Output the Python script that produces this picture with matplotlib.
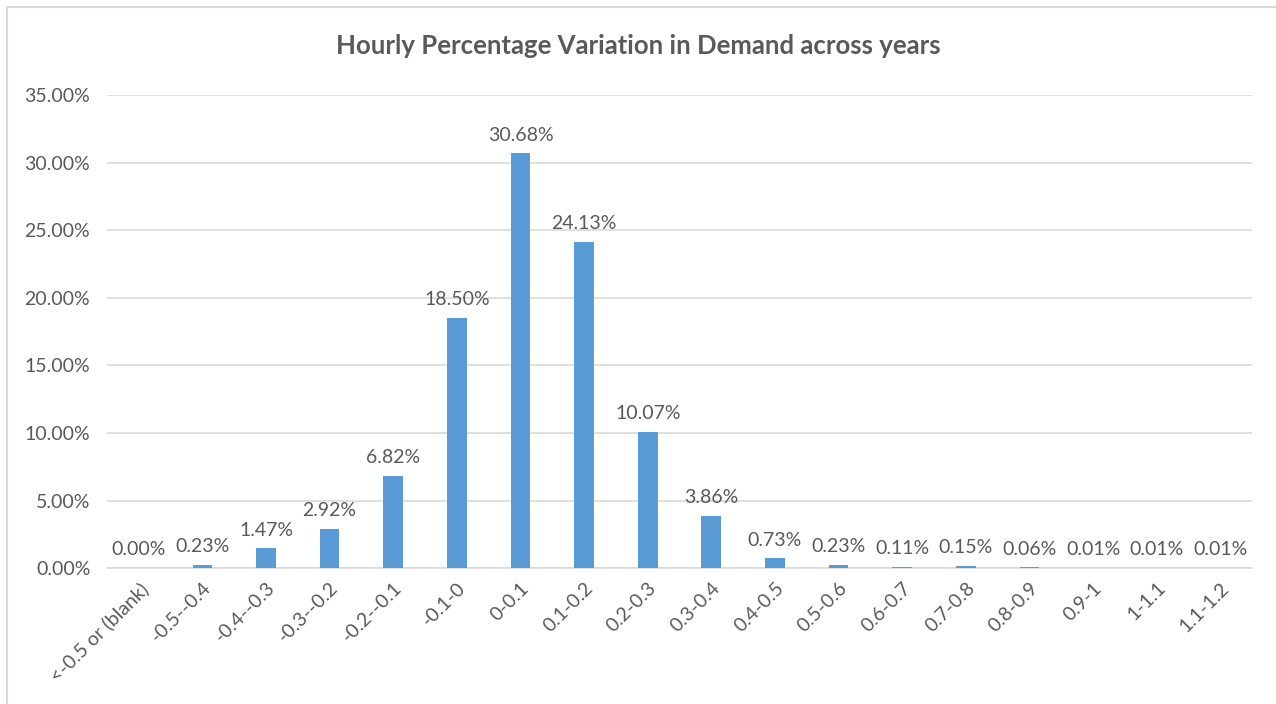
import matplotlib.pyplot as plt
from matplotlib.patches import Rectangle
from matplotlib.ticker import FuncFormatter

plt.rcParams['font.family'] = ['Lato', 'DejaVu Sans']

# bins of hourly % change and share of hours in each bin
categories = ['<-0.5 or (blank)', '-0.5--0.4', '-0.4--0.3', '-0.3--0.2', '-0.2--0.1',
              '-0.1-0', '0-0.1', '0.1-0.2', '0.2-0.3', '0.3-0.4', '0.4-0.5',
              '0.5-0.6', '0.6-0.7', '0.7-0.8', '0.8-0.9', '0.9-1', '1-1.1', '1.1-1.2']
shares = [0.00, 0.23, 1.47, 2.92, 6.82, 18.50, 30.68, 24.13, 10.07, 3.86, 0.73,
          0.23, 0.11, 0.15, 0.06, 0.01, 0.01, 0.01]

text_col = '#595959'
bar_col = '#5b9bd5'

fig = plt.figure(figsize=(12.76, 7.04), dpi=100)
ax = fig.add_axes([0.0838, 0.193, 0.8975, 0.672])

# chart frame like the Excel chart area
fig.patches.append(Rectangle((7 / 1276, -0.1), 1.2, 1.1 - 7 / 704, transform=fig.transFigure,
                             fill=False, edgecolor='#d9d9d9', linewidth=1.5))

x = range(len(categories))
bars = ax.bar(x, shares, width=0.31, color=bar_col, zorder=3)
for xi, v in zip(x, shares):
    ax.annotate(f'{v:.2f}%', (xi, v), xytext=(0, 7), textcoords='offset points',
                ha='center', va='bottom', fontsize=14, color=text_col)

ax.set_xlim(-0.5, len(categories) - 0.5)
ax.set_ylim(0, 35)
ax.set_yticks([0, 5, 10, 15, 20, 25, 30, 35])
ax.yaxis.set_major_formatter(FuncFormatter(lambda v, p: f'{v:.2f}%'))
ax.grid(axis='y', color='#d9d9d9', linewidth=1.2, zorder=0)
ax.set_xticks(list(x))
ax.set_xticklabels(categories, rotation=45, ha='right', rotation_mode='anchor')
ax.tick_params(axis='both', length=0, labelsize=14, labelcolor=text_col)
ax.tick_params(axis='y', pad=12)
ax.tick_params(axis='x', pad=8)
for s in ['top', 'right', 'left']:
    ax.spines[s].set_visible(False)
ax.spines['bottom'].set_color('#d9d9d9')
ax.spines['bottom'].set_linewidth(1.2)

fig.text(0.5, 0.935, 'Hourly Percentage Variation in Demand across years', ha='center',
         va='center', fontsize=18.5, fontweight='bold', color=text_col)

fig.savefig('out.png', dpi=100)
